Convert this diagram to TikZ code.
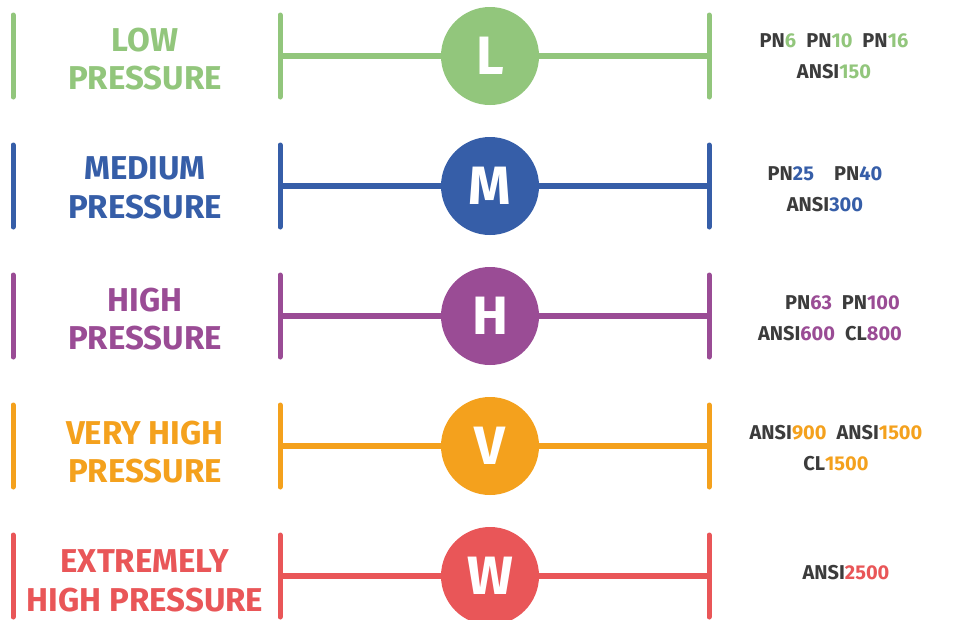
\documentclass[tikz,border=0pt]{standalone}
\usepackage{fontspec}
\setmainfont{Fira Sans}
\definecolor{cL}{HTML}{92C67C}
\definecolor{cM}{HTML}{365EA8}
\definecolor{cH}{HTML}{9A4C95}
\definecolor{cV}{HTML}{F4A11D}
\definecolor{cW}{HTML}{E95658}
\definecolor{darktext}{HTML}{3C3C3C}
\tikzset{
  bar/.style={line width=5pt, line cap=round},
  link/.style={line width=5.5pt},
  badge/.style={circle, minimum size=98pt, inner sep=0pt, text=white, font=\fontsize{54}{54}\selectfont\bfseries},
  titletext/.style={align=center, font=\fontsize{33}{38.5}\selectfont\bfseries},
  spectext/.style={align=center, text=darktext, font=\fontsize{20}{31}\selectfont\bfseries},
}
\newcommand{\prow}[6]{% id, y, colour, letter, title, title y offset
  \coordinate (#1a) at (13,#2-41);
  \coordinate (#1b) at (13,#2+41);
  \draw[bar,#3] (#1a) -- (#1b);
  \coordinate (#1c) at (280,#2-41);
  \coordinate (#1d) at (280,#2+41);
  \draw[bar,#3] (#1c) -- (#1d);
  \coordinate (#1e) at (709,#2-41);
  \coordinate (#1f) at (709,#2+41);
  \draw[bar,#3] (#1e) -- (#1f);
  \coordinate (#1l) at (280,#2);
  \coordinate (#1r) at (709,#2);
  \node[badge, fill=#3] (#1circ) at (490,#2) {#4};
  \draw[link,#3] (#1l) -- (#1circ.west);
  \draw[link,#3] (#1circ.east) -- (#1r);
  \node[titletext, text=#3] (#1title) at (145,#2+#6) {#5};
}
\begin{document}
\begin{tikzpicture}[x=1pt,y=-1pt]
\useasboundingbox[fill=white] (0,0) rectangle (966,619);
\prow{L}{56}{cL}{L}{LOW\\PRESSURE}{3}
\prow{M}{186}{cM}{M}{MEDIUM\\PRESSURE}{2}
\prow{H}{316}{cH}{H}{HIGH\\PRESSURE}{3}
\prow{V}{446}{cV}{V}{VERY HIGH\\PRESSURE}{6}
\prow{W}{576}{cW}{W}{EXTREMELY\\HIGH PRESSURE}{5}
\node[spectext] (Lspec) at (834,56) {PN\textcolor{cL}{6}\enspace PN\textcolor{cL}{10}\enspace PN\textcolor{cL}{16}\\ANSI\textcolor{cL}{150}};
\node[spectext] (Mspec) at (825,189) {PN\textcolor{cM}{25}\quad PN\textcolor{cM}{40}\\ANSI\textcolor{cM}{300}};
\node[spectext] (Hspec) at (830,318) {\hspace*{25pt}PN\textcolor{cH}{63}\enspace PN\textcolor{cH}{100}\\ANSI\textcolor{cH}{600}\enspace CL\textcolor{cH}{800}};
\node[spectext] (Vspec) at (836,448) {ANSI\textcolor{cV}{900}\enspace ANSI\textcolor{cV}{1500}\\CL\textcolor{cV}{1500}};
\node[spectext] (Wspec) at (846,573) {ANSI\textcolor{cW}{2500}};
\end{tikzpicture}
\end{document}
